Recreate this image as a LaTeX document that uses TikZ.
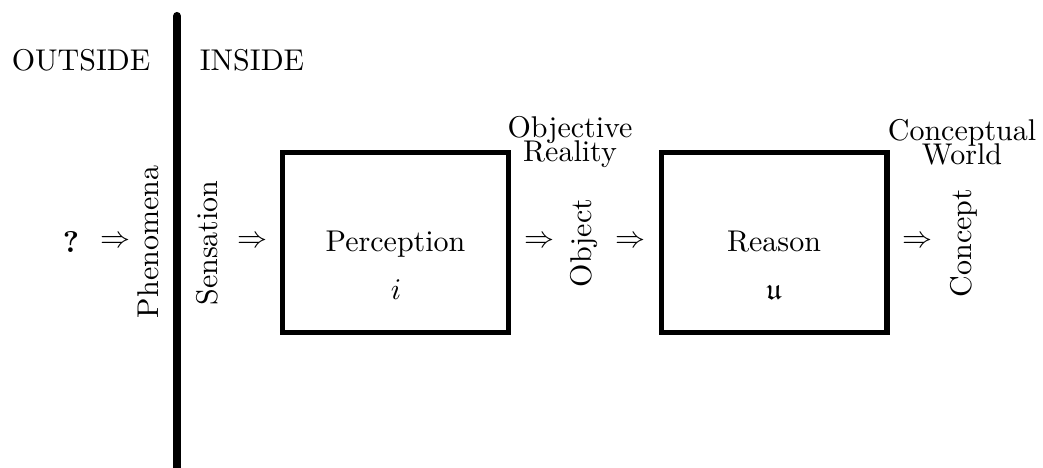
\documentclass[tikz,border=0pt]{standalone}
\usepackage{amssymb}
\begin{document}
\begin{tikzpicture}[x=0.33333pt,y=-0.33333pt,
  lbl/.style={inner sep=0pt},
  vlbl/.style={inner sep=0pt, rotate=90},
  arr/.style={inner sep=0pt},
  proc/.style={draw, line width=1.7pt, minimum width=75.3pt, minimum height=60pt, inner sep=0pt},
  wall/.style={line width=2.7pt, line cap=round}]
\useasboundingbox (0,0) rectangle (1043,468);
\node[lbl, anchor=base] (outside) at (81,71) {OUTSIDE};
\node[lbl, anchor=base] (inside) at (252,71) {INSIDE};
\coordinate (wtop) at (177,16);
\coordinate (wbot) at (177,475);
\draw[wall] (wtop) -- (wbot);
\node[lbl] (q) at (71,242) {\textbf{?}};
\node[arr] (a1) at (115,242) {$\Rightarrow$};
\node[vlbl] (phen) at (148,242) {Phenomena};
\node[vlbl] (sens) at (207,243) {Sensation};
\node[arr] (a2) at (252,242) {$\Rightarrow$};
\node[proc] (perc) at (395.5,242.5) {};
\node[lbl, anchor=base] (perct) at (395.5,252) {Perception};
\node[lbl, anchor=base] (pi) at (396,300) {$i$};
\node[arr] (a3) at (539,242) {$\Rightarrow$};
\node[lbl, align=center] (objr) at (570,142) {Objective\\[-4pt]Reality};
\node[vlbl] (obj) at (584,243) {Object};
\node[arr] (a4) at (630,242) {$\Rightarrow$};
\node[proc] (reas) at (774,242.5) {};
\node[lbl, anchor=base] (reast) at (774,252) {Reason};
\node[lbl, anchor=base] (ru) at (774,300) {$\mathfrak{u}$};
\node[arr] (a5) at (917,242) {$\Rightarrow$};
\node[lbl, align=center] (cw) at (962,142) {Conceptual\\[-4pt]World};
\node[vlbl] (conc) at (964,243) {Concept};
\end{tikzpicture}
\end{document}
